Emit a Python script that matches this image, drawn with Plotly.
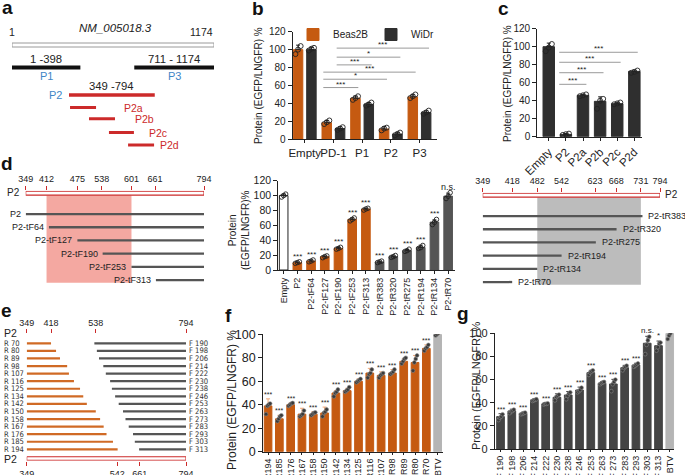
import plotly.graph_objects as go

W, H = 685, 475
FONT = "Liberation Sans, Arial, sans-serif"
NARROW = "Liberation Sans Narrow, DejaVu Sans Condensed, Liberation Sans, sans-serif"
INK = "#222222"
ORANGE = "#c55a11"
ORANGE_LIGHT = "#f0a878"
DARK = "#2f2f2f"
GREY = "#555555"
LIGHT = "#b5b5b5"
RED = "#cc2a2a"
BLUE = "#3f86c6"
PINK = "#f4a8a1"

# ---------------- data ----------------
# a: construct map (schematic positions on the 1..1174 scale)
a_total = [1, 1174]
a_names = ["P1", "P3", "P2"]
a_start = [1, 711, 332]
a_end = [398, 1174, 830]
a_span_text = ["1 -398", "711 - 1174", "349 -794"]
a_sub_names = ["P2a", "P2b", "P2c", "P2d"]
a_sub_start = [338, 448, 564, 675]
a_sub_end = [489, 599, 709, 826]
a_sub_label_x = [645, 711, 789, 853]

# b
b_cats = ["Empty", "PD-1", "P1", "P2", "P3"]
b_beas = [100, 18.5, 45.8, 11.5, 47.3]
b_beas_err = [5, 2.5, 2.5, 2.5, 2.5]
b_beas_pts = [[95, 100, 104], [17, 19, 21], [44, 46, 48], [10, 12, 13], [46, 48, 50]]
b_widr = [100, 12, 39, 5.8, 29.8]
b_widr_err = [2.5, 2, 2, 2, 2]
b_widr_pts = [[99, 101, 102], [10.5, 12, 13.5], [37.5, 39, 41], [4.5, 6, 7.5], [28.5, 30, 32]]
b_sig_from = ["PD-1", "PD-1", "PD-1", "PD-1", "PD-1", "PD-1"]
b_sig_to = ["P3", "P2", "P1", "P3", "P2", "P1"]
b_sig_series = ["WiDr", "WiDr", "WiDr", "Beas2B", "Beas2B", "Beas2B"]
b_sig_y = [101.7, 91.6, 83, 74.9, 67, 57.7]
b_sig_text = ["***", "*", "***", "***", "*", "***"]

# c
c_cats = ["Empty", "P2", "P2a", "P2b", "P2c", "P2d"]
c_vals = [100, 2.6, 46, 39.3, 36.7, 72.6]
c_err = [4, 1, 1, 5, 1.5, 1.5]
c_pts = [[95, 99, 103], [2, 2.8, 3.4], [45, 46, 47], [31, 40, 42], [36, 37, 38], [71, 72, 73.5]]
c_sig_to = ["P2d", "P2c", "P2b", "P2a"]
c_sig_y = [93.8, 82.7, 71.1, 58.2]

# d left: N-terminal truncations (schematic positions)
dl_ticks = [349, 401, 478, 539, 613, 672, 794]
dl_tick_text = ["349", "412", "475", "538", "601", "661", "794"]
dl_names = ["P2", "P2-tF64", "P2-tF127", "P2-tF190", "P2-tF253", "P2-tF313"]
dl_start = [349, 407, 478, 541, 613, 674]
dl_shade = [401, 613]

# d middle
dm_cats = ["Empty", "P2", "P2-tF64", "P2-tF127", "P2-tF190", "P2-tF253", "P2-tF313",
           "P2-tR383", "P2-tR320", "P2-tR275", "P2-tR194", "P2-tR134", "P2-tR70"]
dm_vals = [100, 9.8, 12, 17.9, 29.1, 68, 81.9, 10.7, 17.9, 26, 30.4, 64.4, 99.3]
dm_err = [2, 1, 1.5, 1, 1, 2, 1, 1, 1, 1.5, 3, 3, 4]
dm_pts = [[98, 100, 102], [9, 10, 11], [11, 12, 13.5], [16.5, 18, 19], [28, 29, 30.5],
          [66, 68, 70], [80.5, 82, 83], [10, 11, 12], [17, 18, 19.5], [25, 26, 28],
          [29, 30, 33], [61, 64, 68], [96, 99, 104]]
dm_group = ["empty"] + ["F"] * 6 + ["R"] * 6
dm_sig = [""] + ["***"] * 11 + ["n.s."]

# d right: C-terminal truncations (schematic positions)
dr_ticks = [349, 423, 486, 547, 631, 684, 746, 794]
dr_tick_text = ["349", "418", "482", "542", "623", "668", "731", "794"]
dr_names = ["P2-tR383", "P2-tR320", "P2-tR275", "P2-tR194", "P2-tR134", "P2-tR70"]
dr_end = [750, 685, 633, 547, 486, 423]
dr_shade = [486, 746]

# e: fine mapping constructs (schematic positions)
e_top_ticks = [349, 417, 542, 794]
e_top_text = ["349", "418", "538", "794"]
e_bot_ticks = [349, 602, 665, 794]
e_bot_text = ["349", "542", "661", "794"]
e_r_names = ["R 70", "R 80", "R 89", "R 98", "R 107", "R 116", "R 125", "R 134", "R 142",
             "R 150", "R 158", "R 167", "R 176", "R 185", "R 194"]
e_r_end = [417, 431, 442, 462, 467, 481, 498, 507, 517, 542, 554, 564, 572, 590, 603]
e_f_names = ["F 190", "F 198", "F 206", "F 214", "F 222", "F 230", "F 238", "F 246", "F 253",
             "F 263", "F 273", "F 283", "F 293", "F 303", "F 313"]
e_f_start = [538, 545, 551, 563, 570, 582, 587, 596, 606, 618, 625, 634, 646, 651, 663]

# f
f_cats = ["R194", "R185", "R176", "R167", "R158", "R150", "R142", "R134", "R125", "R116",
          "R107", "R98", "R89", "R80", "R70", "BTV"]
f_vals = [39, 28, 40, 32, 32, 33, 50, 52, 60, 67, 65, 67, 77, 76, 88, 100]
f_err = [6, 3, 1.5, 5, 2, 5, 2, 2, 2, 4, 3, 3, 2, 6, 3, 1]
f_pts = [[32, 39, 40, 41], [26, 28, 30, 31], [39, 40, 41, 41.5], [30, 31, 32, 35],
         [31, 32, 33, 33.5], [30, 33, 34, 36], [47, 50, 51, 53], [51, 52, 53, 55],
         [59, 60, 61, 62], [63, 66, 67, 70], [63, 65, 66, 67], [66, 67, 68, 70],
         [75, 77, 79, 80], [69, 76, 79, 82], [86, 88, 89, 91], [99, 100, 101, 102]]
f_sig = ["***"] * 15 + [""]

# g
g_cats = ["F 190", "F 198", "F 206", "F 214", "F 222", "F 230", "F 238", "F 246", "F 253",
          "F 263", "F 273", "F 283", "F 293", "F 303", "F 313", "BTV"]
g_vals = [28, 32.9, 30.8, 42.4, 38.9, 44.7, 46.7, 51, 66, 56.8, 56.2, 70.3, 72.6, 91.4, 89.3, 100]
g_err = [2.5, 1.5, 1, 1, 1, 3, 3, 2.5, 2, 1.5, 4, 2, 1.5, 6, 4, 2]
g_pts = [[25, 27, 28, 30], [31, 32.5, 33, 34], [30, 30.5, 31, 31.5], [41.5, 42, 42.5, 43],
         [38.5, 39, 39, 39.5], [42, 45, 46, 47], [43, 46, 48, 49], [49, 50, 51, 53],
         [64, 66, 67, 68], [56, 57, 57.5, 58], [50, 56, 58, 60], [68, 70, 71, 72],
         [71, 72, 73, 74], [82, 90, 94, 97], [85, 88, 91, 92], [95, 98, 100, 103]]
g_sig = ["***"] * 13 + ["n.s.", "*", ""]

y_title = "Protein (EGFP/LNGFR) %"


# ---------------- helpers ----------------
def xdom(left, right):
    return [left / W, right / W]


def ydom(top, bottom):
    return [1 - bottom / H, 1 - top / H]


def px(x):
    return x / W


def py(y):
    return 1 - y / H


fig = go.Figure()


def note(text, x, y, xref="paper", yref="paper", size=10, color=INK, xanchor="center",
         yanchor="middle", angle=0, family=FONT, xshift=0, yshift=0):
    fig.add_annotation(text=text, x=x, y=y, xref=xref, yref=yref, showarrow=False,
                       font=dict(size=size, color=color, family=family),
                       xanchor=xanchor, yanchor=yanchor, textangle=angle,
                       xshift=xshift, yshift=yshift, borderpad=0)


def segments(x0s, x1s, levels):
    xs, ys = [], []
    for a, b, l in zip(x0s, x1s, levels):
        xs += [a, b, None]
        ys += [l, l, None]
    return xs, ys


def cloud(xs, pts, spread):
    ox, oy = [], []
    for x, vals in zip(xs, pts):
        n = len(vals)
        for k, v in enumerate(vals):
            ox.append(x + (spread * (2 * k / (n - 1) - 1) if n > 1 else 0))
            oy.append(v)
    return ox, oy


def bar_set(ax, xs, vals, errs, pts, color, line_color, err_color, width, spread,
            pt_style, name=None, legend=False):
    xa, ya = ax
    fig.add_trace(go.Bar(
        x=xs, y=vals, width=width, name=name, showlegend=legend,
        marker=dict(color=color, line=dict(color=line_color, width=1)),
        error_y=dict(type="data", array=errs, arrayminus=[0] * len(errs), symmetric=False,
                     color=err_color, thickness=1, width=2),
        xaxis=xa, yaxis=ya))
    cx, cy = cloud(xs, pts, spread)
    fig.add_trace(go.Scatter(x=cx, y=cy, mode="markers", showlegend=False,
                             marker=pt_style, xaxis=xa, yaxis=ya, hoverinfo="skip"))


def value_axis(domain, anchor, rng, size, dtick=20):
    return dict(domain=domain, anchor=anchor, range=rng, dtick=dtick, tick0=0,
                showline=True, linecolor=INK, linewidth=1.2, ticks="outside", ticklen=4,
                tickwidth=1.1, tickcolor=INK, showgrid=False, zeroline=False, automargin=False,
                tickfont=dict(size=size, color=INK, family=FONT))


def cat_axis(domain, anchor, rng, labels, size, angle=0, ticklen=3):
    return dict(domain=domain, anchor=anchor, range=rng, tickvals=list(range(len(labels))),
                ticktext=labels, tickangle=angle, showline=True, linecolor=INK,
                linewidth=1.2, ticks="outside", ticklen=ticklen, tickwidth=1, tickcolor=INK,
                showgrid=False, zeroline=False, automargin=False,
                tickfont=dict(size=size, color=INK, family=FONT))


def hidden(domain, anchor, rng):
    return dict(domain=domain, anchor=anchor, range=rng, visible=False, showgrid=False,
                zeroline=False, automargin=False)


def ruler_axis(domain, anchor, rng, vals, text, side, size=9, overlay=None):
    d = dict(domain=domain, anchor=anchor, range=rng, side=side, tickvals=vals,
             ticktext=text, ticks="outside", ticklen=4, tickwidth=1.3, tickcolor=RED,
             showline=False, showgrid=False, zeroline=False, automargin=False,
             tickfont=dict(size=size, color=INK, family=FONT))
    if overlay:
        d["overlaying"] = overlay
    return d


# ---------------- panel a ----------------
fig.add_shape(type="rect", xref="x", yref="y", x0=a_total[0], x1=a_total[1], y0=-0.16,
              y1=0.16, line=dict(color="#9a9a9a", width=1), fillcolor="white")
sx, sy = segments(a_start[:2], a_end[:2], [1.8, 1.8])
fig.add_trace(go.Scatter(x=sx, y=sy, mode="lines", line=dict(color="#111111", width=4),
                         showlegend=False, xaxis="x", yaxis="y"))
sx, sy = segments(a_start[2:], a_end[2:], [4])
fig.add_trace(go.Scatter(x=sx, y=sy, mode="lines", line=dict(color=RED, width=3.5),
                         showlegend=False, xaxis="x", yaxis="y"))
sub_levels = [5, 5.9, 7, 8]
sx, sy = segments(a_sub_start, a_sub_end, sub_levels)
fig.add_trace(go.Scatter(x=sx, y=sy, mode="lines", line=dict(color=RED, width=3),
                         showlegend=False, xaxis="x", yaxis="y"))
note(str(a_total[0]), a_total[0], -1.05, "x", "y", size=10.5)
note(str(a_total[1]), a_total[1], -1.05, "x", "y", size=10.5, xanchor="right")
note("<i>NM_005018.3</i>", 600, -1.35, "x", "y", size=11.5)
for i, (s, e) in enumerate(zip(a_start, a_end)):
    lvl = 1.8 if i < 2 else 4
    note(a_span_text[i], (s + e) / 2, lvl - 0.72, "x", "y", size=11.3)
    if i < 2:
        note(a_names[i], (s + e) / 2, lvl + 0.65, "x", "y", size=11, color=BLUE)
    else:
        note(a_names[i], s, lvl, "x", "y", size=11, color=BLUE, xanchor="right", xshift=-6)
for n, xl, l in zip(a_sub_names, a_sub_label_x, sub_levels):
    note(n, xl, l, "x", "y", size=10.5, color=RED, xanchor="left")

# ---------------- panel b ----------------
bx_beas = [i - 0.233 for i in range(len(b_cats))]
bx_widr = [i + 0.233 for i in range(len(b_cats))]
open_pt = dict(symbol="circle-open", size=5, color=INK, line=dict(width=0.9))
bar_set(("x2", "y2"), bx_beas, b_beas, b_beas_err, b_beas_pts, ORANGE, ORANGE, INK, 0.33,
        0.09, open_pt, name="Beas2B", legend=True)
bar_set(("x2", "y2"), bx_widr, b_widr, b_widr_err, b_widr_pts, DARK, DARK, INK, 0.33,
        0.09, open_pt, name="WiDr", legend=True)
sx0, sx1 = [], []
for f0, t0, s in zip(b_sig_from, b_sig_to, b_sig_series):
    pos = bx_widr if s == "WiDr" else bx_beas
    sx0.append(pos[b_cats.index(f0)] - 0.12)
    sx1.append(pos[b_cats.index(t0)] + 0.1)
sx, sy = segments(sx0, sx1, b_sig_y)
fig.add_trace(go.Scatter(x=sx, y=sy, mode="lines", line=dict(color="#9a9a9a", width=1),
                         showlegend=False, xaxis="x2", yaxis="y2", hoverinfo="skip"))
for a, b, y, t in zip(sx0, sx1, b_sig_y, b_sig_text):
    note(t, (a + b) / 2, y, "x2", "y2", size=8, yanchor="bottom", yshift=-2)

# ---------------- panel c ----------------
cx = list(range(len(c_cats)))
bar_set(("x3", "y3"), cx, c_vals, c_err, c_pts, DARK, DARK, INK, 0.67, 0.18, open_pt)
c0 = [c_cats.index("P2") - 0.39] * len(c_sig_to)
c1 = [c_cats.index(t) + 0.2 for t in c_sig_to]
sx, sy = segments(c0, c1, c_sig_y)
fig.add_trace(go.Scatter(x=sx, y=sy, mode="lines", line=dict(color="#9a9a9a", width=1),
                         showlegend=False, xaxis="x3", yaxis="y3", hoverinfo="skip"))
for a, b, y in zip(c0, c1, c_sig_y):
    note("***", (a + b) / 2, y, "x3", "y3", size=8, yanchor="bottom", yshift=-2)

# ---------------- panel d left ----------------
fig.add_shape(type="rect", xref="x4", yref="y4", x0=dl_shade[0], x1=dl_shade[1], y0=0.17,
              y1=6.8, line=dict(width=0), fillcolor=PINK, layer="below")
fig.add_shape(type="rect", xref="x4", yref="y4", x0=349, x1=794, y0=-0.13, y1=0.17,
              line=dict(color=RED, width=1.1), fillcolor="white")
d_levels = [1.6 + i for i in range(6)]
sx, sy = segments(dl_start, [794] * len(dl_start), d_levels)
fig.add_trace(go.Scatter(x=sx, y=sy, mode="lines", line=dict(color=GREY, width=2.3),
                         showlegend=False, xaxis="x4", yaxis="y4"))
for n, s, l in zip(dl_names, dl_start, d_levels):
    note(n, s, l, "x4", "y4", size=9, xanchor="right", xshift=-4)
note("P2", 349, 0, "x4", "y4", size=10, xanchor="right", xshift=-5)

# ---------------- panel d middle ----------------
dmx = list(range(len(dm_cats)))
cmap = {"empty": "white", "F": ORANGE, "R": GREY}
lmap = {"empty": INK, "F": ORANGE, "R": GREY}
fig.add_trace(go.Bar(
    x=dmx, y=dm_vals, width=0.63, showlegend=False,
    marker=dict(color=[cmap[g] for g in dm_group], line=dict(color=[lmap[g] for g in dm_group], width=1)),
    error_y=dict(type="data", array=dm_err, arrayminus=[0] * len(dm_err), symmetric=False,
                 color=INK, thickness=1, width=2),
    xaxis="x5", yaxis="y5"))
ox, oy = cloud(dmx, dm_pts, 0.15)
fig.add_trace(go.Scatter(x=ox, y=oy, mode="markers", showlegend=False,
                         marker=dict(symbol="circle-open", size=4.5, color=INK, line=dict(width=0.9)),
                         xaxis="x5", yaxis="y5", hoverinfo="skip"))
for x, p, s in zip(dmx, dm_pts, dm_sig):
    if s:
        note(s, x, max(p), "x5", "y5", size=8 if s != "n.s." else 9, yanchor="bottom", yshift=0)

# ---------------- panel d right ----------------
fig.add_shape(type="rect", xref="x6", yref="y6", x0=dr_shade[0], x1=dr_shade[1], y0=0.17,
              y1=6.8, line=dict(width=0), fillcolor="#bcbcbc", layer="below")
fig.add_shape(type="rect", xref="x6", yref="y6", x0=349, x1=794, y0=-0.13, y1=0.17,
              line=dict(color=RED, width=1.1), fillcolor="white")
sx, sy = segments([349] * len(dr_end), dr_end, d_levels)
fig.add_trace(go.Scatter(x=sx, y=sy, mode="lines", line=dict(color=GREY, width=2.3),
                         showlegend=False, xaxis="x6", yaxis="y6"))
for n, e, l in zip(dr_names, dr_end, d_levels):
    note(n, e, l, "x6", "y6", size=9, xanchor="left", xshift=5)
note("P2", 794, 0, "x6", "y6", size=10, xanchor="left", xshift=4)

# ---------------- panel e ----------------
rows = list(range(len(e_r_names)))
sx, sy = segments([349] * len(e_r_end), e_r_end, rows)
fig.add_trace(go.Scatter(x=sx, y=sy, mode="lines", line=dict(color="#d06a25", width=2.2),
                         showlegend=False, xaxis="x7", yaxis="y7"))
sx, sy = segments(e_f_start, [794] * len(e_f_start), rows)
fig.add_trace(go.Scatter(x=sx, y=sy, mode="lines", line=dict(color=GREY, width=2.2),
                         showlegend=False, xaxis="x7", yaxis="y7"))
fig.add_trace(go.Scatter(x=[349, 794, 794, 349, 349], y=[14.98, 14.98, 15.45, 15.45, 14.98],
                         mode="lines", fill="toself", fillcolor="white",
                         line=dict(color=RED, width=1.1), showlegend=False,
                         xaxis="x8", yaxis="y7"))
for n, l in zip(e_r_names, rows):
    note(n, px(3), l, "paper", "y7", size=7.6, family=NARROW, xanchor="left", color="#333333")
for n, l in zip(e_f_names, rows):
    note(n, 794, l, "x7", "y7", size=7.6, family=NARROW, xanchor="left", xshift=2,
         color="#333333")
note("P2", px(3), py(333), size=10.5, xanchor="left")
note("P2", px(3), py(459), size=10.5, xanchor="left")

# ---------------- panel f ----------------
fx = list(range(len(f_cats)))
f_colors = [ORANGE] * 15 + [LIGHT]
fill_pt = dict(symbol="circle", size=3.8, color="#3a3a3a", line=dict(width=0.6, color="#888888"))
bar_set(("x9", "y9"), fx, f_vals, f_err, f_pts, f_colors, f_colors, ORANGE_LIGHT, 0.68,
        0.18, fill_pt)
for x, v, e, p, s in zip(fx, f_vals, f_err, f_pts, f_sig):
    if s:
        note(s, x, max(v + e, max(p)), "x9", "y9", size=7, yanchor="bottom", yshift=0)

# ---------------- panel g ----------------
gx = list(range(len(g_cats)))
g_colors = ["#444444"] * 15 + [LIGHT]
bar_set(("x10", "y10"), gx, g_vals, g_err, g_pts, g_colors, g_colors, "#444444", 0.68,
        0.18, fill_pt)
for x, v, e, p, s in zip(gx, g_vals, g_err, g_pts, g_sig):
    if s:
        note(s, x, max(v + e, max(p)), "x10", "y10", size=7 if s == "***" else 8,
             yanchor="bottom", yshift=0)

# ---------------- titles and panel letters ----------------
note(y_title, px(258), py(86), size=10, angle=-90)
note(y_title, px(507), py(84), size=10, angle=-90)
note("Protein<br>(EGFP/LNGFR)%", px(239), py(230), size=10, angle=-90)
note(y_title, px(232), py(400), size=12, angle=-90)
note(y_title, px(476), py(386), size=11, angle=-90)
for letter, lx, ly in [("a", 1, 7.4), ("b", 251, 8.4), ("c", 497, 8.4), ("d", 0, 163.4),
                       ("e", 0, 310), ("f", 224, 315), ("g", 456, 313.4)]:
    note("<b>%s</b>" % letter, px(lx), py(ly), size=19, color="#111111", xanchor="left")

# ---------------- layout ----------------
fig.update_layout(
    template="none",
    width=W, height=H, margin=dict(l=0, r=0, t=0, b=0, autoexpand=False),
    paper_bgcolor="white", plot_bgcolor="white", barmode="overlay",
    font=dict(family=FONT, color=INK),
    legend=dict(orientation="h", x=px(293), y=py(20), xanchor="left", yanchor="top",
                font=dict(size=10, family=FONT), itemwidth=30, entrywidth=33,
                bgcolor="rgba(0,0,0,0)"),
    xaxis=hidden(xdom(12, 214), "y", [1, 1174]),
    yaxis=hidden(ydom(0, 150), "x", [8.4, -3.6]),
    xaxis2=cat_axis(xdom(292.7, 436.7), "y2", [-0.42, 4.6], b_cats, 11.5),
    yaxis2=value_axis(ydom(31.7, 139.3), "x2", [0, 120], 10),
    xaxis3=cat_axis(xdom(537.3, 641.7), "y3", [-0.67, 5.43], c_cats, 11.5, angle=-45),
    yaxis3=value_axis(ydom(28.7, 136.7), "x3", [0, 120], 10),
    xaxis4=ruler_axis(xdom(25.7, 204), "y4", [349, 794], dl_ticks, dl_tick_text, "top"),
    yaxis4=hidden(ydom(190.7, 284), "x4", [6.9, -0.167]),
    xaxis5=cat_axis(xdom(278.3, 455), "y5", [-0.39, 12.5], dm_cats, 9, angle=-90),
    yaxis5=value_axis(ydom(180.7, 270), "x5", [0, 120], 10.5),
    xaxis6=ruler_axis(xdom(482.7, 660), "y6", [349, 794], dr_ticks, dr_tick_text, "top"),
    yaxis6=hidden(ydom(192.7, 286), "x6", [6.9, -0.167]),
    xaxis7=ruler_axis(xdom(26.7, 186), "y7", [349, 794], e_top_ticks, e_top_text, "top"),
    xaxis8=ruler_axis(xdom(26.7, 186), "y7", [349, 794], e_bot_ticks, e_bot_text, "bottom",
                      overlay="x7"),
    yaxis7=hidden(ydom(334.3, 460.7), "x7", [15.5, -1.19]),
    xaxis9=cat_axis(xdom(263.3, 443.3), "y9", [-0.42, 15.5], f_cats, 9, angle=-90, ticklen=2),
    yaxis9=value_axis(ydom(334.3, 451.7), "x9", [0, 100], 12.5),
    xaxis10=cat_axis(xdom(495, 674.3), "y10", [-0.49, 15.4], g_cats, 9, angle=-90, ticklen=2),
    yaxis10=value_axis(ydom(333.3, 449), "x10", [0, 100], 11),
)

# the page's default body margin would shift the fixed-size figure by 8px
fig.write_html("out.html", config={"displayModeBar": False},
               post_script="document.body.style.margin = '0';")
